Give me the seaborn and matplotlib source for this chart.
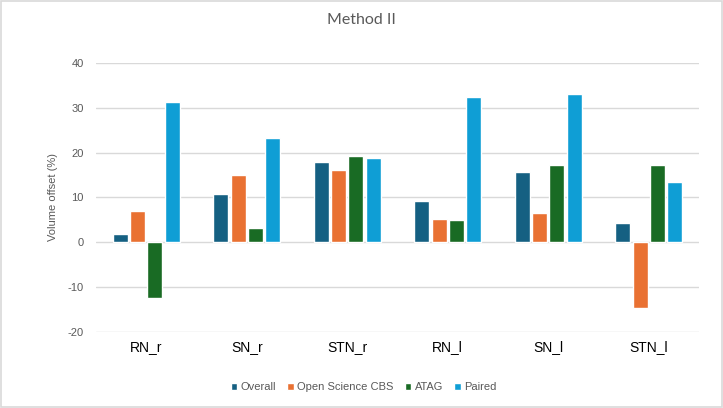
import numpy as np
import pandas as pd
import matplotlib
matplotlib.use("Agg")
import matplotlib.pyplot as plt
import seaborn as sns

# data
categories = ["RN_r", "SN_r", "STN_r", "RN_l", "SN_l", "STN_l"]
overall = [1.9, 10.8, 17.9, 9.2, 15.7, 4.3]
open_cbs = [7.0, 15.0, 16.2, 5.2, 6.6, -14.6]
atag = [-12.4, 3.2, 19.3, 5.0, 17.3, 17.3]
paired = [31.3, 23.3, 18.8, 32.5, 33.1, 13.5]
series = ["Overall", "Open Science CBS", "ATAG", "Paired"]
colors = ["#156082", "#E97132", "#196B24", "#0F9ED5"]

# long form table for seaborn
rows = []
for name, vals in zip(series, [overall, open_cbs, atag, paired]):
    for c, v in zip(categories, vals):
        rows.append({"cat": c, "series": name, "value": v})
df = pd.DataFrame(rows)

sns.set_style("white")
plt.rcParams["font.family"] = ["Liberation Sans", "DejaVu Sans"]
plt.rcParams["axes.unicode_minus"] = False  # plain hyphen like Excel

fig = plt.figure(figsize=(7.23, 4.08), dpi=100)
ax = fig.add_axes([0.1328, 0.1863, 0.834, 0.6593])

sns.barplot(data=df, x="cat", y="value", hue="series", order=categories,
            hue_order=series, palette=colors, width=0.69, gap=0.14,
            saturation=1, errorbar=None, ax=ax, zorder=3)

ax.set_ylim(-20, 40)
ax.set_yticks([-20, -10, 0, 10, 20, 30, 40])
ax.set_xlim(-0.5, len(categories) - 0.5)
ax.grid(axis="y", color="#D9D9D9", linewidth=1.0, zorder=0)
for s in ax.spines.values():
    s.set_visible(False)
ax.tick_params(axis="y", length=0, labelsize=8, labelcolor="#595959", pad=9)
ax.tick_params(axis="x", length=0, labelsize=10, labelcolor="#000000", pad=6)
ax.set_xlabel("")
ax.set_ylabel("Volume offset (%)", fontsize=8, color="#595959")
ax.yaxis.set_label_coords(-0.063, 0.5)

fig.text(0.5, 1 - 20 / 408, "Method II", fontsize=11.5, color="#595959",
         family=["Lato", "DejaVu Sans"], ha="center", va="center")

handles, labels = ax.get_legend_handles_labels()
ax.legend_.remove()
fig.legend(handles, labels, loc="center", bbox_to_anchor=(0.503, 1 - 387 / 408), ncol=4,
           frameon=False, fontsize=8, labelcolor="#595959", handlelength=0.6,
           handleheight=0.6, handletextpad=0.3, columnspacing=1.0)

# thin border around the chart area
fig.patches.append(plt.Rectangle((0.001, 0.002), 0.997, 0.996, transform=fig.transFigure,
                                 fill=False, edgecolor="#D9D9D9", linewidth=1.2))

fig.savefig("out.png", dpi=100)
